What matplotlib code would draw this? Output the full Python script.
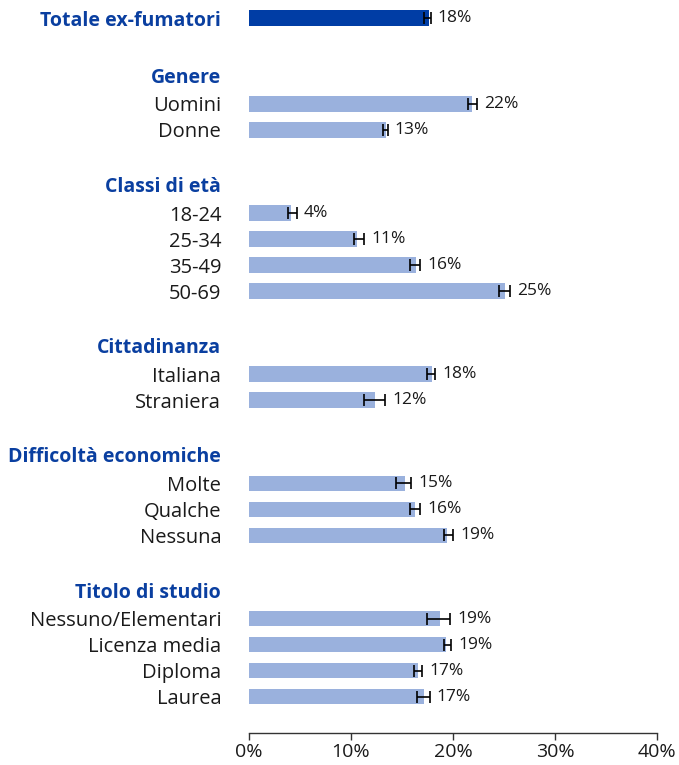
import matplotlib
matplotlib.use("Agg")
import matplotlib.pyplot as plt
from matplotlib.ticker import FuncFormatter

plt.rcParams['font.family'] = ['Open Sans', 'DejaVu Sans']

# ---- data ----
total_label = "Totale ex-fumatori"
total_value = 17.6
total_lo = 17.2
total_hi = 17.8
total_text = "18%"

group_titles = ["Genere", "Classi di età", "Cittadinanza", "Difficoltà economiche", "Titolo di studio"]
group_labels = [
    ["Uomini", "Donne"],
    ["18-24", "25-34", "35-49", "50-69"],
    ["Italiana", "Straniera"],
    ["Molte", "Qualche", "Nessuna"],
    ["Nessuno/Elementari", "Licenza media", "Diploma", "Laurea"],
]
group_values = [
    [21.9, 13.4],
    [4.1, 10.6, 16.4, 25.1],
    [17.9, 12.4],
    [15.3, 16.3, 19.4],
    [18.7, 19.3, 16.6, 17.2],
]
group_lo = [
    [21.5, 13.1],
    [3.8, 10.25, 15.8, 24.55],
    [17.5, 11.3],
    [14.4, 15.8, 19.1],
    [17.5, 19.15, 16.2, 16.5],
]
group_hi = [
    [22.35, 13.6],
    [4.7, 11.3, 16.8, 25.55],
    [18.25, 13.35],
    [15.9, 16.8, 20.0],
    [19.7, 19.8, 16.95, 17.7],
]
group_texts = [
    ["22%", "13%"],
    ["4%", "11%", "16%", "25%"],
    ["18%", "12%"],
    ["15%", "16%", "19%"],
    ["19%", "19%", "17%", "17%"],
]
x_ticks = [0, 10, 20, 30, 40]

# ---- style ----
dark_blue = "#003DA5"
light_blue = "#9AB1DD"
title_color = "#0A3FA0"
text_color = "#1A1A1A"

W, H = 679, 765
fig = plt.figure(figsize=(W / 100, H / 100), dpi=100)
left_px, right_px, top_px, bottom_px = 249, 657, 0, 733
ax = fig.add_axes([left_px / W, 1 - bottom_px / H, (right_px - left_px) / W, (bottom_px - top_px) / H])

row0_px, row_step = 18, 26.0
bar_h = 0.6

tick_pos, tick_lab, tick_col, tick_bold = [], [], [], []

def draw_bar(row, val, lo, hi, txt, color):
    ax.barh(row, val, height=bar_h, color=color, zorder=2)
    ax.errorbar(val, row, xerr=[[val - lo], [hi - val]], fmt='none', ecolor='black',
                elinewidth=1.2, capsize=4.5, capthick=1.2, zorder=3)
    ax.text(max(val, hi) + 0.7, row, txt, va='center', ha='left', fontsize=12.5, color=text_color)

row = 0.0
draw_bar(row, total_value, total_lo, total_hi, total_text, dark_blue)
tick_pos.append(row); tick_lab.append(total_label); tick_col.append(title_color); tick_bold.append(True)
row += 2.2
for title, labs, vals, los, his, txts in zip(group_titles, group_labels, group_values, group_lo, group_hi, group_texts):
    tick_pos.append(row); tick_lab.append(title); tick_col.append(title_color); tick_bold.append(True)
    row += 1.1
    for lab, v, lo, hi, t in zip(labs, vals, los, his, txts):
        draw_bar(row, v, lo, hi, t, light_blue)
        tick_pos.append(row); tick_lab.append(lab); tick_col.append(text_color); tick_bold.append(False)
        row += 1
    row += 1.1

ax.set_xlim(0, 40)
r_top = (top_px - row0_px) / row_step
r_bot = (bottom_px - row0_px) / row_step
ax.set_ylim(r_bot, r_top)

ax.set_yticks(tick_pos)
ax.set_yticklabels(tick_lab)
ax.tick_params(axis='y', length=0, pad=20)
for lbl, c, b in zip(ax.get_yticklabels(), tick_col, tick_bold):
    lbl.set_color(c)
    if b:
        lbl.set_fontsize(14)
        lbl.set_fontweight('bold')
    else:
        lbl.set_fontsize(14.5)

ax.set_xticks(x_ticks)
ax.xaxis.set_major_formatter(FuncFormatter(lambda x, p: f"{int(x)}%"))
ax.tick_params(axis='x', direction='out', length=5, width=1, colors='#333333', labelsize=14,
               labelcolor=text_color, pad=2)

for s in ['top', 'right', 'left']:
    ax.spines[s].set_visible(False)
ax.spines['bottom'].set_color('#333333')
ax.spines['bottom'].set_linewidth(1)

fig.savefig("out.png", dpi=100)
